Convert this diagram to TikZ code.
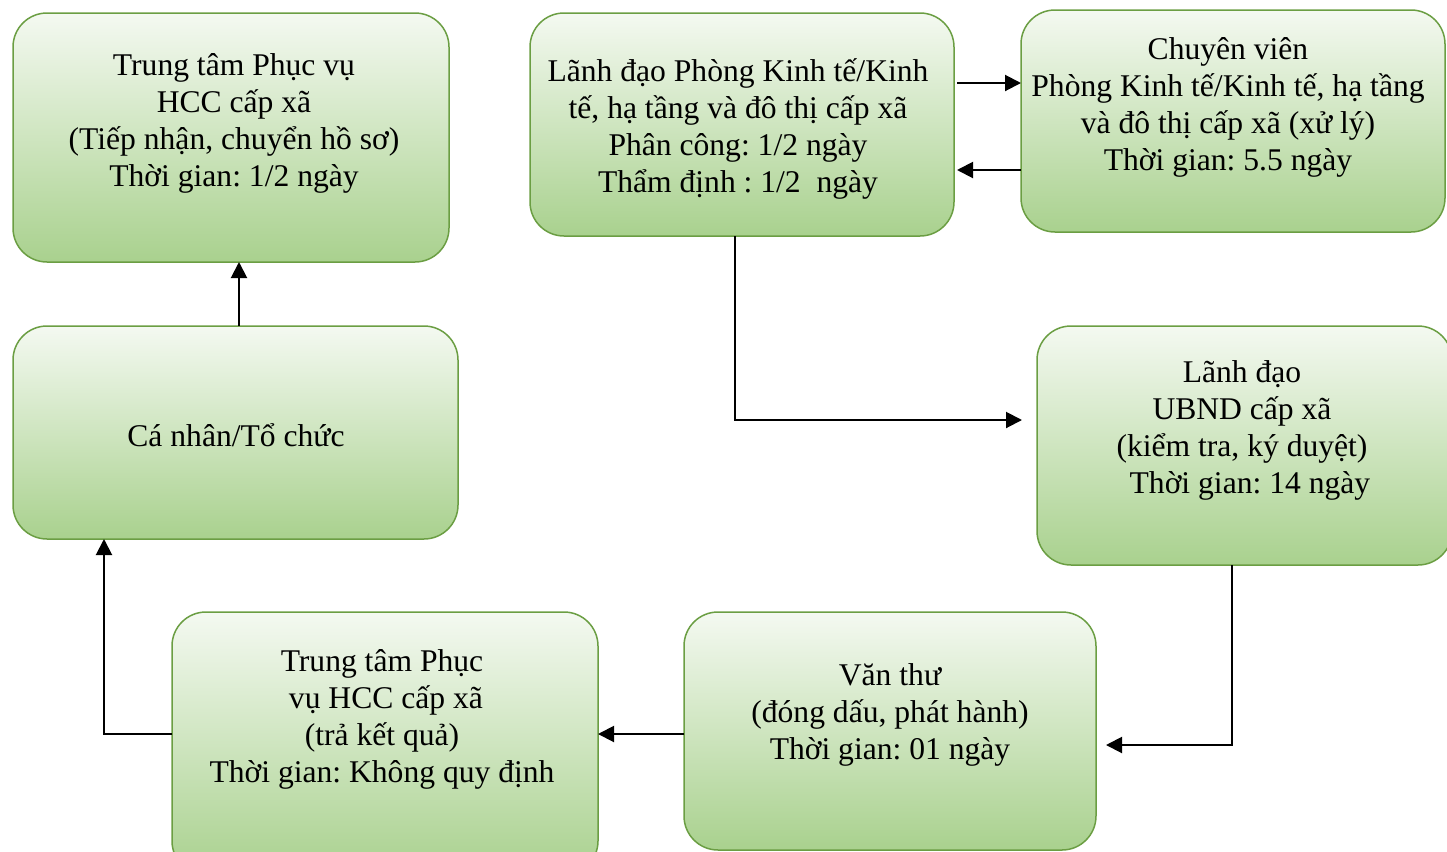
\documentclass[tikz,border=0pt]{standalone}
\usepackage{fontspec}
\setmainfont{Liberation Serif}
\usetikzlibrary{arrows.meta, fit}
\definecolor{boxtop}{HTML}{F4F9F1}
\definecolor{boxbot}{HTML}{A9D18E}
\definecolor{boxline}{HTML}{6B9E43}
\frenchspacing

\begin{document}
\begin{tikzpicture}[
	x=0.5pt, y=-0.5pt,
	box/.style = {shape=rectangle, draw=boxline, line width=0.75pt, rounded corners=17pt, top color=boxtop, bottom color=boxbot, inner sep=0pt, outer sep=0pt},
	txt/.style = {shape=rectangle, draw=none, align=center, inner sep=0pt, font=\fontsize{15.8pt}{18.5pt}\selectfont},
	arr/.style = {draw, line width=1pt, -{Triangle[length=8pt, width=8pt]}},
	]
\useasboundingbox (0,0) rectangle (1447,852);
% boxes
\node[box, fit={(13,13) (449,262)}] (tiepnhan) {};
\node[box, fit={(13,326) (458,539)}] (canhan) {};
\node[box, fit={(530,13) (954,236)}] (phong) {};
\node[box, fit={(1021,10) (1445,232)}] (chuyenvien) {};
\node[box, fit={(1037,326) (1452,565)}] (ubnd) {};
\node[box, fit={(684,612) (1096,850)}] (vanthu) {};
\node[box, fit={(172,612) (598,875)}] (trakq) {};
% texts
\node[txt] (t1) at (234,123) {Trung tâm Phục vụ \\ HCC cấp xã \\ (Tiếp nhận, chuyển hồ sơ) \\ Thời gian: 1/2 ngày};
\node[txt] (t2) at (236,435) {Cá nhân/Tổ chức};
\node[txt] (t3) at (738,129) {Lãnh đạo Phòng Kinh tế/Kinh \\ tế, hạ tầng và đô thị cấp xã \\ Phân công: 1/2 ngày \\ Thẩm định : 1/2~ ngày};
\node[txt] (t4) at (1228,107) {Chuyên viên \\ Phòng Kinh tế/Kinh tế, hạ tầng \\ và đô thị cấp xã (xử lý) \\ Thời gian: 5.5 ngày};
\node[txt] (t5) at (1242,430) {Lãnh đạo \\ UBND cấp xã \\ (kiểm tra, ký duyệt) \\ ~~Thời gian: 14 ngày};
\node[txt] (t6) at (890,715) {Văn thư \\ (đóng dấu, phát hành) \\ Thời gian: 01 ngày};
\node[txt] (t7) at (382,719) {Trung tâm Phục \\ ~vụ HCC cấp xã \\ (trả kết quả) \\ Thời gian: Không quy định};
% connectors
\draw[arr] (canhan.north -| 239,0) -- (tiepnhan.south -| 239,0);
\draw[arr, shorten <=1.5pt] (phong.east |- 0,83) -- (chuyenvien.west |- 0,83);
\draw[arr, shorten >=1.5pt] (chuyenvien.west |- 0,170) -- (phong.east |- 0,170);
\draw[arr, shorten >=7.5pt] (phong.south -| 735,0) |- (ubnd.west |- 0,420);
\draw[arr, shorten >=5pt] (ubnd.south -| 1232,0) |- (vanthu.east |- 0,745);
\draw[arr] (vanthu.west |- 0,734) -- (trakq.east |- 0,734);
\draw[arr] (trakq.west |- 0,734) -| (canhan.south -| 104,0);
\end{tikzpicture}
\end{document}
